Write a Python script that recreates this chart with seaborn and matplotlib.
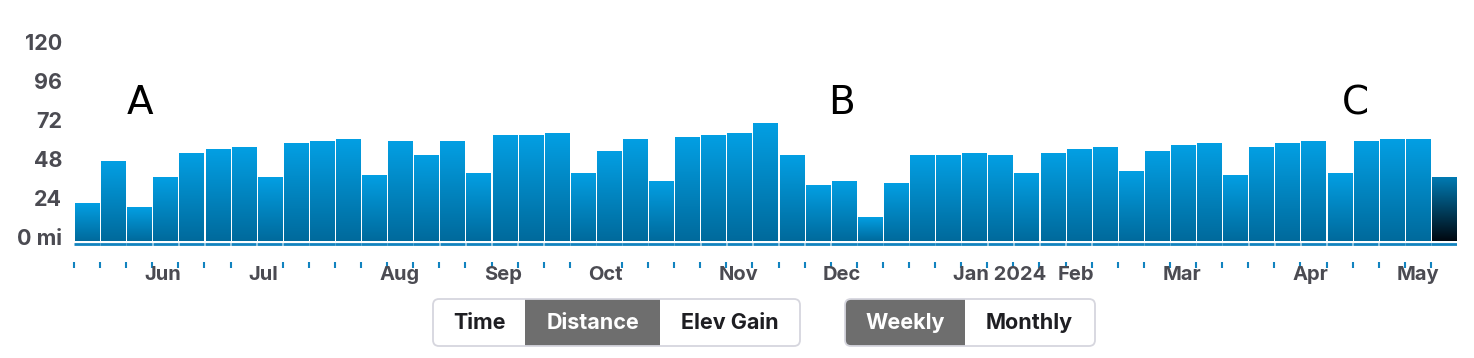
import numpy as np
import pandas as pd
import seaborn as sns
import matplotlib.pyplot as plt
import matplotlib.transforms as mtransforms
from matplotlib.patches import FancyBboxPatch, Rectangle

# weekly distance (mi), weeks starting Monday 2023-05-15
week_start = pd.date_range('2023-05-15', periods=53, freq='7D')
distance = [23.2, 49.0, 20.7, 39.2, 54.0, 56.4, 57.7, 39.2, 60.1, 61.4,
            62.6, 40.4, 61.4, 52.7, 61.4, 41.7, 65.0, 65.0, 66.3, 41.7,
            55.2, 62.6, 36.8, 63.8, 65.0, 66.3, 72.4, 52.7, 34.3, 36.8,
            14.6, 35.5, 52.7, 52.7, 54.0, 52.7, 41.7, 54.0, 56.4, 57.7,
            42.9, 55.2, 58.9, 60.1, 40.4, 57.7, 60.1, 61.4, 41.7, 61.4,
            62.6, 62.6, 39.2]
y_ticks = [0, 24, 48, 72, 96, 120]
y_labels = ['0 mi', '24', '48', '72', '96', '120']
month_starts = pd.date_range('2023-06-01', '2024-05-01', freq='MS')
hidden_ticks = [7, 20]

df = pd.DataFrame({'week': np.arange(len(distance)), 'distance': distance})

sns.set_style('white')
plt.rcParams['font.family'] = ['Inter', 'DejaVu Sans']

W, H, DPI = 1474, 358, 100
fig = plt.figure(figsize=(W / DPI, H / DPI), dpi=DPI)
ax = fig.add_axes([74 / W, (H - 262) / H, 1383 / W, 242 / H])

sns.barplot(data=df, x='week', y='distance', color='#039ee2', width=0.92, ax=ax)

# vertical gradient on every bar, last (current) week darker
top_c = np.array([3, 159, 227]) / 255
bot_c = np.array([0, 106, 156]) / 255
last_top = np.array([0, 122, 178]) / 255
last_bot = np.array([1, 8, 16]) / 255
t = np.linspace(0, 1, 120)[:, None]
n = len(ax.patches)
for i, bar in enumerate(ax.patches):
    x0, w, h = bar.get_x(), bar.get_width(), bar.get_height()
    a, b = (last_top, last_bot) if i == n - 1 else (top_c, bot_c)
    grad = (a * (1 - t) + b * t)[:, None, :]
    ax.imshow(grad, extent=[x0, x0 + w, 0, h], origin='upper', aspect='auto', zorder=2)
    bar.set_alpha(0)

ax.set_xlim(-0.5, 52.5)
ax.set_ylim(-13.1, 135.8)
ax.set_aspect('auto')

# blue base line under bars
idx = np.arange(n)
ax.hlines(np.full(n, -2.3), idx - 0.49, idx + 0.49, color='#1283bf', lw=2.0, zorder=3)

for s in ax.spines.values():
    s.set_visible(False)

ax.set_xticks([i - 0.5 for i in idx if i not in hidden_ticks])
ax.set_xticklabels([])
ax.tick_params(axis='x', bottom=True, length=4.3, width=1.5, color='#1283bf', direction='out')
ax.set_xlabel('')
ax.set_ylabel('')

ax.set_yticks(y_ticks)
ax.set_yticklabels(y_labels)
ax.tick_params(axis='y', left=False, length=0, pad=8.6, labelsize=15.5, labelcolor='#4b4b52')
offset = mtransforms.ScaledTranslation(0, 4 / DPI, fig.dpi_scale_trans)
for lbl in ax.get_yticklabels():
    lbl.set_fontweight('bold')
    lbl.set_transform(lbl.get_transform() + offset)

# month labels
for m in month_starts:
    k = (m - week_start[0]).days // 7
    txt = f"{m:%b %Y}" if m.month == 1 else f"{m:%b}"
    ax.text(k + 0.2, -21.1, txt, ha='left', va='center', fontsize=14.5,
            fontweight='bold', color='#4b4b52', clip_on=False, zorder=5)

# annotations
for letter, xpos in [('A', 2.03), ('B', 28.9), ('C', 48.6)]:
    ax.text(xpos, 84.7, letter, ha='center', va='center', fontsize=28,
            family='DejaVu Sans', color='black')

# toggle buttons drawn in figure pixels (top-origin y)
pix = mtransforms.Affine2D().scale(1 / DPI) + fig.dpi_scale_trans


def rbox(x0, x1, y0, y1, **kw):
    p = FancyBboxPatch((x0, H - y1), x1 - x0, y1 - y0,
                       boxstyle='round,pad=0,rounding_size=6', transform=pix, **kw)
    fig.add_artist(p)


def rect(x0, x1, y0, y1, **kw):
    p = Rectangle((x0, H - y1), x1 - x0, y1 - y0, transform=pix, **kw)
    fig.add_artist(p)


sel = '#6e6e6e'
edge = '#d6d6de'
rbox(433, 800, 299, 346, facecolor='white', edgecolor='none')
rect(525, 660, 299, 346, facecolor=sel, edgecolor='none')
rbox(433, 800, 299, 346, facecolor='none', edgecolor=edge, lw=1.3)

rbox(845, 1095, 299, 346, facecolor='white', edgecolor='none')
rbox(845, 965, 299, 346, facecolor=sel, edgecolor='none')
rect(930, 965, 299, 346, facecolor=sel, edgecolor='none')
rbox(845, 1095, 299, 346, facecolor='none', edgecolor=edge, lw=1.3)

for label, xc, selected in [('Time', 480, False), ('Distance', 593, True),
                            ('Elev Gain', 730, False), ('Weekly', 905, True),
                            ('Monthly', 1029, False)]:
    fig.text(xc, H - 323, label, transform=pix, ha='center', va='center',
             fontsize=15.5, fontweight='bold',
             color='white' if selected else '#1e1e22')

fig.savefig('out.png', dpi=DPI)
